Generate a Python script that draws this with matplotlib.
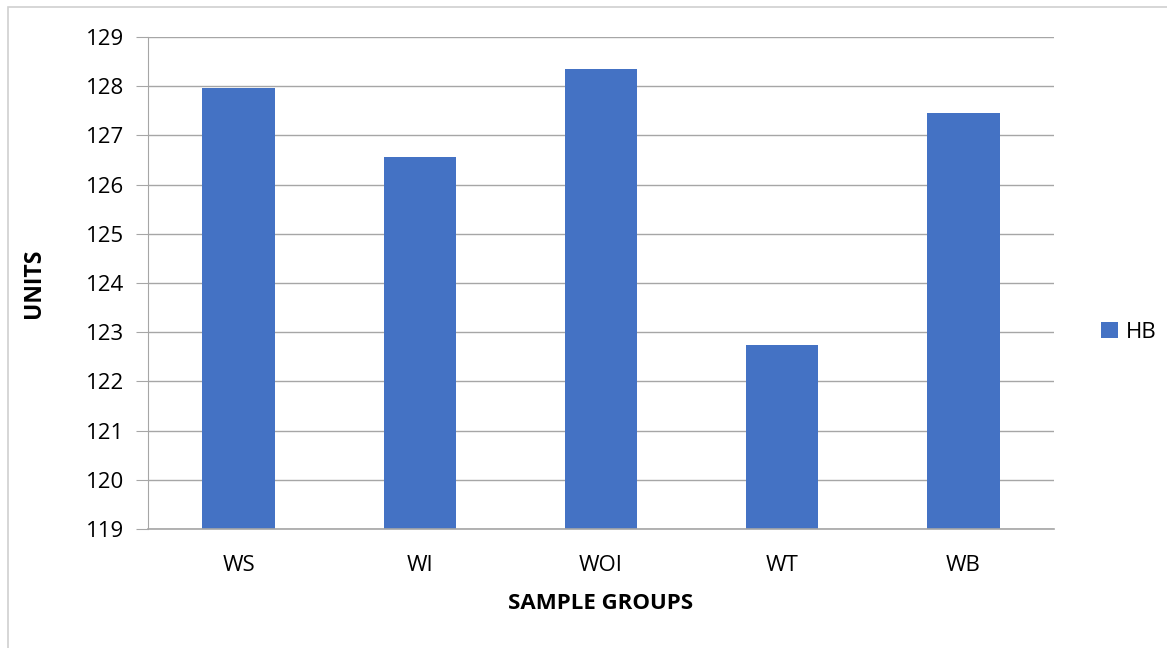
import matplotlib
matplotlib.use("Agg")
import matplotlib.pyplot as plt
from matplotlib.patches import Rectangle

# sample groups and HB values
groups = ["WS", "WI", "WOI", "WT", "WB"]
hb = [127.97, 126.57, 128.35, 122.75, 127.46]
yticks = [119, 120, 121, 122, 123, 124, 125, 126, 127, 128, 129]

plt.rcParams['font.family'] = ['Open Sans', 'DejaVu Sans']

fig = plt.figure(figsize=(11.67, 6.48), dpi=100)
ax = fig.add_axes([148/1167, 1-529/648, (1054-148)/1167, (529-37)/648])

# outer chart border (light gray)
fig.patches.append(Rectangle((8/1167, -0.01), 1.0, 1-7/648+0.01, transform=fig.transFigure,
                             fill=False, edgecolor='#d0d0d0', linewidth=1.2))

x = range(len(groups))
ax.bar(x, hb, width=0.4, color='#4472c4', label='HB', zorder=3)

ax.set_ylim(119, 129)
ax.set_xlim(-0.5, len(groups) - 0.5)
ax.set_yticks(yticks)
ax.set_xticks(list(x))
ax.set_xticklabels(groups)
ax.grid(axis='y', color='#a6a6a6', linewidth=1, zorder=0)
ax.set_axisbelow(True)

for s in ['top', 'right', 'bottom']:
    ax.spines[s].set_visible(False)
ax.spines['left'].set_color('#a6a6a6')
ax.axhline(119, color='#a6a6a6', linewidth=1.2, zorder=4, clip_on=False)

ax.tick_params(axis='y', length=9, color='#a6a6a6', labelsize=16, pad=8)
ax.tick_params(axis='x', length=0, labelsize=16, pad=19)

ax.set_xlabel('SAMPLE GROUPS', fontsize=16, fontweight='bold')
ax.set_ylabel('UNITS', fontsize=16.5, fontweight='bold')
ax.xaxis.set_label_coords(0.5, -0.13)
ax.yaxis.set_label_coords(-0.113, 0.5)

ax.legend(loc='center left', bbox_to_anchor=(1.03, 0.4), frameon=False,
          fontsize=16, handlelength=0.75, handleheight=0.75, handletextpad=0.35)

fig.savefig('out.png', dpi=100)
